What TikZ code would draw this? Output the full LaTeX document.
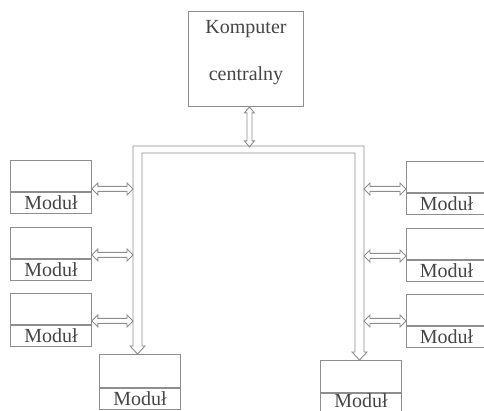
\documentclass[tikz,border=0pt]{standalone}
\usepackage{fontspec}
\setmainfont{Liberation Serif}
\usetikzlibrary{calc}
\definecolor{ln}{HTML}{8E8E8E}
\definecolor{tx}{HTML}{454545}
\newcommand\vhollow[2]{%
  \draw[arr] let \p1=#1, \p2=#2 in
    (\x1,\y1) -- (\x1+5pt,\y1-6pt) -- (\x1+2.5pt,\y1-6pt) -- (\x1+2.5pt,\y2+6pt)
    -- (\x1+5pt,\y2+6pt) -- (\x1,\y2) -- (\x1-5pt,\y2+6pt) -- (\x1-2.5pt,\y2+6pt)
    -- (\x1-2.5pt,\y1-6pt) -- (\x1-5pt,\y1-6pt) -- cycle;}
\newcommand\hhollow[2]{%
  \draw[arr] let \p1=#1, \p2=#2 in
    (\x1,\y1) -- (\x1+6pt,\y1+6pt) -- (\x1+6pt,\y1+2.5pt) -- (\x2-6pt,\y1+2.5pt)
    -- (\x2-6pt,\y1+6pt) -- (\x2,\y1) -- (\x2-6pt,\y1-6pt) -- (\x2-6pt,\y1-2.5pt)
    -- (\x1+6pt,\y1-2.5pt) -- (\x1+6pt,\y1-6pt) -- cycle;}
\begin{document}
\begin{tikzpicture}[x=1pt,y=-1pt,line width=0.9pt,
  arr/.style={draw=ln,line join=miter},
  upper/.style={draw=ln,inner sep=0pt,minimum width=#1,minimum height=31pt,anchor=north west},
  lower/.style={draw=ln,inner sep=0pt,minimum width=#1,minimum height=21pt,anchor=north west,
                text=tx,font=\fontsize{20}{20}\selectfont},
  txt/.style={text=tx,font=\fontsize{20}{20}\selectfont,inner sep=0pt,anchor=base}]
\useasboundingbox (0,0) rectangle (484,410);
\clip (0,0) rectangle (484,410);
% central computer
\node[draw=ln,inner sep=0pt,minimum width=115pt,minimum height=95pt,anchor=north west] (pc) at (188,11) {};
\node[txt] (k1) at (246,33) {Komputer};
\node[txt] (k2) at (246,80) {centralny};
% left modules
\node[upper=81pt] (l1u) at (10,160) {};
\node[lower=81pt] (l1) at (l1u.south west) {Moduł};
\node[upper=81pt] (l2u) at (10,227) {};
\node[lower=81pt] (l2) at (l2u.south west) {Moduł};
\node[upper=81pt] (l3u) at (10,293) {};
\node[lower=81pt] (l3) at (l3u.south west) {Moduł};
% right modules
\node[upper=80pt] (r1u) at (406,161) {};
\node[lower=80pt] (r1) at (r1u.south west) {Moduł};
\node[upper=80pt] (r2u) at (406,228) {};
\node[lower=80pt] (r2) at (r2u.south west) {Moduł};
\node[upper=80pt] (r3u) at (406,294) {};
\node[lower=80pt] (r3) at (r3u.south west) {Moduł};
% bottom modules
\node[upper=81pt,minimum height=33pt] (blu) at (99,354) {};
\node[lower=81pt] (bl) at (blu.south west) {Moduł};
\node[upper=81pt,minimum height=32pt] (bru) at (320,360) {};
\node[lower=81pt] (br) at (bru.south west) {};
\node[txt] (brt) at ($(bru.south)+(0,14.5)$) {Moduł};
% bus
\coordinate (bo1) at (133,146);
\coordinate (bo2) at (364,146);
\coordinate (bi1) at (142,153);
\coordinate (bi2) at (355,153);
\coordinate (tl) at (137.5,354);
\coordinate (tr) at (359.5,360);
\draw[arr] (tl) -- ++(-7.5,-8) -- (bo1 |- 0,346) -- (bo1) -- (bo2) -- (bo2 |- 0,352)
  -- ++(3,0) -- (tr) -- ++(-7.5,-8) -- (bi2 |- 0,352) -- (bi2) -- (bi1) -- (bi1 |- 0,346)
  -- ++(3,0) -- cycle;
% connector computer - bus
\vhollow{($(pc.south)+(3.5,0)$)}{($(pc.south -| bo1)+(116,40)$)}
% left arrows
\hhollow{($(l1u.south east)+(0,-3)$)}{(bo1)}
\hhollow{($(l2u.south east)+(0,-4)$)}{(bo1)}
\hhollow{($(l3u.south east)+(0,-4)$)}{(bo1)}
% right arrows
\hhollow{($(r1u.south west -| bo2)+(0,-4)$)}{(r1u.south west)}
\hhollow{($(r2u.south west -| bo2)+(0,-4)$)}{(r2u.south west)}
\hhollow{($(r3u.south west -| bo2)+(0,-5)$)}{(r3u.south west)}
\end{tikzpicture}
\end{document}
